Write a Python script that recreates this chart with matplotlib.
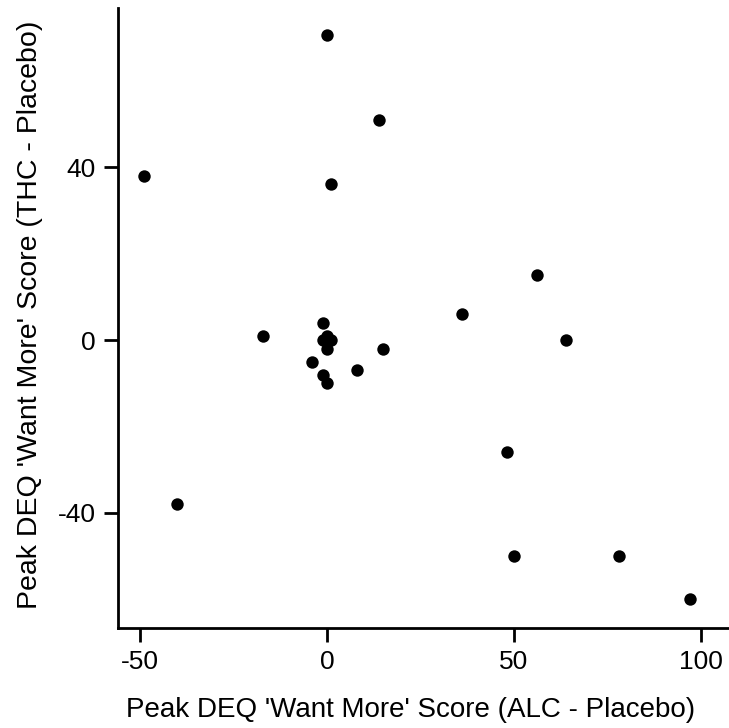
import matplotlib
matplotlib.use('Agg')
import matplotlib.pyplot as plt

# differences in peak DEQ 'want more' score
alc_diff = [0, 14, -49, 1, 56, 36, 64, -17, -1, 0, -1, 1, 0, 0, 15, -4, 8, -1, 0, 48, -40, 50, 78, 97]
thc_diff = [70.5, 51, 38, 36, 15, 6, 0, 1, 4, 1, 0, 0, 0, -2, -2, -5, -7, -8, -10, -26, -38, -50, -50, -60]

x_ticks = [-50, 0, 50, 100]
y_ticks = [-40, 0, 40]

plt.rcParams['font.family'] = ['Liberation Sans', 'DejaVu Sans']
plt.rcParams['axes.unicode_minus'] = False

fig = plt.figure(figsize=(7.29, 7.28), dpi=100)
ax = fig.add_axes([118 / 729, 1 - 628 / 728, (728 - 118) / 729, (628 - 8) / 728])

ax.scatter(alc_diff, thc_diff, s=80, color='black', linewidths=0, zorder=3)

ax.set_xlim(-55.9, 107.2)
ax.set_ylim(-66.6, 76.8)
ax.set_xticks(x_ticks)
ax.set_yticks(y_ticks)

for side in ['top', 'right']:
    ax.spines[side].set_visible(False)
for side in ['left', 'bottom']:
    ax.spines[side].set_linewidth(2)

ax.tick_params(axis='both', direction='out', length=10, width=2, labelsize=19, pad=6)

ax.set_xlabel("Peak DEQ 'Want More' Score (ALC - Placebo)", fontsize=20)
ax.set_ylabel("Peak DEQ 'Want More' Score (THC - Placebo)", fontsize=20.5)
ax.xaxis.set_label_coords(0.48, -0.111)
ax.yaxis.set_label_coords(-0.123, 0.505)

fig.savefig('out.png', dpi=100, facecolor='w')
